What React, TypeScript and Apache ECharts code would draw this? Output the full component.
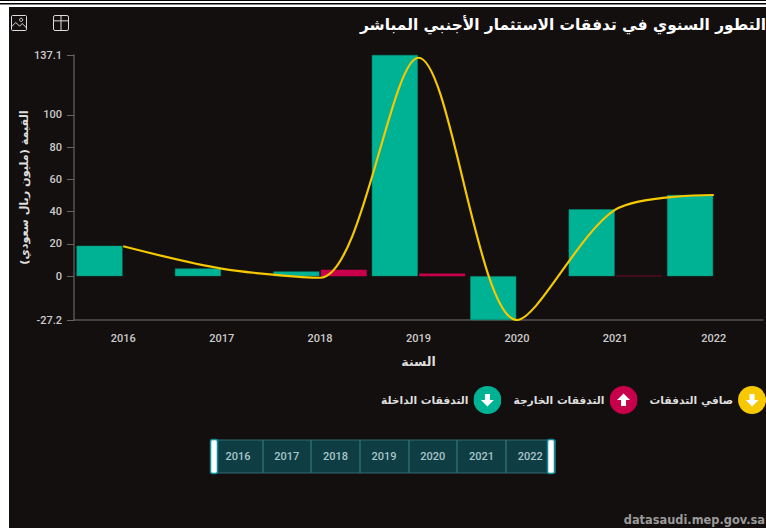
import React, { useEffect, useRef } from "react";
import * as echarts from "echarts";

const years = ["2016", "2017", "2018", "2019", "2020", "2021", "2022"];
const inflow = [18.8, 4.7, 2.9, 137.1, -27.2, 41.4, 50.3];
const outflow = [0, 0, 3.9, 1.7, 0, 0.2, 0];
const net = [18.5, 4.7, -1, 135.4, -27.2, 41.2, 50.3];
const yTicks = [-27.2, 0, 20, 40, 60, 80, 100, 137.1];
const names = { inflow: "التدفقات الداخلة", outflow: "التدفقات الخارجة", net: "صافي التدفقات" };
const titleText = "التطور السنوي في تدفقات الاستثمار الأجنبي المباشر";
const yName = "القيمة (مليون ريال سعودي)";
const xName = "السنة";
const sourceText = "datasaudi.mep.gov.sa";

const BG = "#130F0E";
const GREEN = "#00B294";
const RED = "#C8004B";
const YELLOW = "#F5C800";
const AR = "'DejaVu Sans', sans-serif";
const NUM = "Roboto, sans-serif";

const down = "M-6.5 0 L-2.5 0 L-2.5 -6 L2.5 -6 L2.5 0 L6.5 0 L0 6.5 Z";
const up = "M-6.5 0 L0 -6.5 L6.5 0 L2.5 0 L2.5 6 L-2.5 6 L-2.5 0 Z";
const badge = (color: string, d: string) =>
  "image://data:image/svg+xml;charset=utf-8," +
  encodeURIComponent(
    `<svg xmlns="http://www.w3.org/2000/svg" width="28" height="28" viewBox="-14 -14 28 28"><circle r="14" fill="${color}"/><path d="${d}" fill="#fff"/></svg>`
  );

const imgIcon =
  "path://M3 1H27Q29 1 29 3V27Q29 29 27 29H3Q1 29 1 27V3Q1 1 3 1ZM1 22L9 14L16 21L21 16L29 24M19 6A3 3 0 1 0 19.01 6Z";
const tableIcon =
  "path://M4 1H26Q29 1 29 4V26Q29 29 26 29H4Q1 29 1 26V4Q1 1 4 1ZM1 11H29M15 1V29";

export default function App() {
  const ref = useRef<HTMLDivElement>(null);
  useEffect(() => {
    document.body.style.margin = "0";
    document.body.style.background = "#fff";
    const chart = echarts.init(ref.current!, undefined, { renderer: "svg" });
    chart.setOption({
      animation: false,
      backgroundColor: "#fff",
      textStyle: { fontFamily: AR },
      title: {
        text: titleText,
        right: 0,
        top: 17,
        padding: 0,
        textStyle: { color: "#fff", fontFamily: AR, fontWeight: "bold", fontSize: 15.4 },
      },
      toolbox: {
        left: -6,
        top: -2,
        itemSize: 15,
        itemGap: 22,
        iconStyle: { color: "none", borderColor: "#ddd", borderWidth: 1 },
        feature: {
          saveAsImage: { icon: imgIcon, title: "" },
          dataView: { icon: tableIcon, title: "", readOnly: true },
        },
      },
      legend: {
        left: 381,
        top: 386,
        width: 600,
        padding: 0,
        align: "right",
        itemWidth: 28,
        itemHeight: 28,
        itemGap: 12,
        selectedMode: false,
        textStyle: { color: "#ddd", fontFamily: AR, fontSize: 10.7, fontWeight: "bold" },
        data: [
          { name: names.inflow, icon: badge(GREEN, down) },
          { name: names.outflow, icon: badge(RED, up) },
          { name: names.net, icon: badge(YELLOW, down) },
        ],
      },
      grid: [
        { left: 74, right: 3, top: 55, height: 265 },
        {
          left: 213.6,
          width: 341,
          top: 440,
          height: 33,
          show: true,
          backgroundColor: "#0F3D44",
          borderColor: "#2F6A72",
          borderWidth: 1,
        },
      ],
      xAxis: [
        {
          type: "category",
          data: years,
          name: xName,
          nameLocation: "middle",
          nameGap: 35,
          nameTextStyle: { color: "#ddd", fontFamily: AR, fontSize: 12.5, fontWeight: "bold" },
          axisLine: { onZero: false, lineStyle: { color: "#555", width: 1.5 } },
          axisTick: { alignWithLabel: true, length: 6, lineStyle: { color: "#666" } },
          axisLabel: { color: "#ccc", fontFamily: NUM, fontWeight: 500, fontSize: 11, margin: 13 },
        },
        {
          type: "category",
          gridIndex: 1,
          data: years,
          position: "top",
          axisLine: { show: false },
          axisTick: { show: false },
          splitLine: { show: true, interval: 0, lineStyle: { color: "#2F6A72", width: 1.5 } },
          axisLabel: {
            inside: true,
            interval: 0,
            margin: 11,
            color: "#A9C6C8",
            fontFamily: NUM,
            fontWeight: 500,
            fontSize: 11,
          },
        },
      ],
      yAxis: [
        {
          type: "value",
          min: -27.2,
          max: 137.1,
          name: yName,
          nameLocation: "middle",
          nameGap: 44,
          nameMoveOverlap: false,
          nameTextStyle: { color: "#ddd", fontFamily: AR, fontSize: 11.2, fontWeight: "bold" },
          splitLine: { show: false },
          axisLine: { show: true, lineStyle: { color: "#555", width: 1.5 } },
          axisTick: { show: true, length: 7, customValues: yTicks, lineStyle: { color: "#666" } },
          axisLabel: {
            color: "#ccc",
            fontFamily: NUM,
            fontWeight: 500,
            fontSize: 11,
            margin: 12,
            customValues: yTicks,
          },
        },
        { type: "value", gridIndex: 1, show: false },
      ],
      series: [
        {
          name: names.inflow,
          type: "bar",
          data: inflow,
          barWidth: 46,
          barGap: "3%",
          itemStyle: { color: GREEN, borderColor: "#06907A", borderWidth: 0.5 },
        },
        {
          name: names.outflow,
          type: "bar",
          data: outflow,
          barWidth: 46,
          itemStyle: { color: RED },
        },
        {
          name: names.net,
          type: "line",
          data: net,
          smooth: 0.3,
          showSymbol: false,
          lineStyle: { color: YELLOW, width: 2.2 },
          itemStyle: { color: YELLOW },
        },
      ],
      graphic: [
        { type: "rect", z: -10, silent: true, shape: { x: 0, y: 0, width: 766, height: 1 }, style: { fill: "#000" } },
        { type: "rect", z: -10, silent: true, shape: { x: 0, y: 3, width: 766, height: 1.5 }, style: { fill: "#000" } },
        { type: "rect", z: -10, silent: true, shape: { x: 9, y: 7, width: 757, height: 521 }, style: { fill: BG } },
        { type: "rect", z: 10, shape: { x: 210.5, y: 439.5, width: 7, height: 34, r: 2 }, style: { fill: "#fff", stroke: "#0E8C96", lineWidth: 1.5 } },
        { type: "rect", z: 10, shape: { x: 547.5, y: 439.5, width: 7, height: 34, r: 2 }, style: { fill: "#fff", stroke: "#0E8C96", lineWidth: 1.5 } },
        {
          type: "text",
          right: 1,
          top: 514,
          style: { text: sourceText, fill: "#9a9a9a", font: "bold 11.4px 'DejaVu Sans', sans-serif", letterSpacing: 0.5 },
        },
      ],
    });
    return () => chart.dispose();
  }, []);
  return <div ref={ref} style={{ width: 766, height: 528 }} />;
}
